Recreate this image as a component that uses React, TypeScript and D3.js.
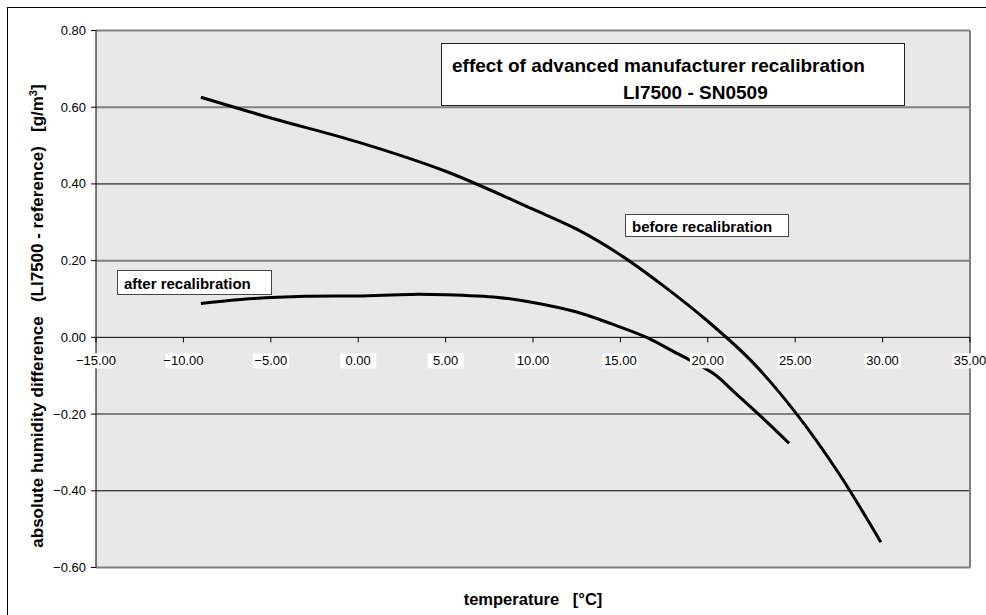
import React from 'react';
import * as d3 from 'd3';

// before recalibration curve (temperature °C -> difference g/m3)
const beforeTemp = [-9, -5, 0, 5, 10, 12.5, 15, 17.5, 20, 22.5, 25, 27.5, 29.9];
const beforeDiff = [0.626, 0.572, 0.509, 0.433, 0.334, 0.282, 0.215, 0.133, 0.042, -0.062, -0.195, -0.355, -0.534];

// after recalibration curve
const afterTemp = [-9, -6, -3, 0, 3, 5, 8, 10, 12.5, 14.5, 16.5, 18, 19, 20.4, 21.5, 22.9, 24.65];
const afterDiff = [0.088, 0.101, 0.107, 0.108, 0.112, 0.111, 0.104, 0.091, 0.066, 0.035, 0, -0.036, -0.06, -0.097, -0.142, -0.2, -0.276];

const xTicks = [-15, -10, -5, 0, 5, 10, 15, 20, 25, 30, 35];
const yTicks = [0.8, 0.6, 0.4, 0.2, 0, -0.2, -0.4, -0.6];

const font = '"Liberation Sans", Arial, sans-serif';

export default function App() {
  const x = d3.scaleLinear().domain([-15, 35]).range([96, 970]);
  const y = d3.scaleLinear().domain([-0.6, 0.8]).range([567.5, 30.5]);

  const line = d3.line<[number, number]>()
    .x(d => x(d[0]))
    .y(d => y(d[1]))
    .curve(d3.curveCatmullRom);

  const before = beforeTemp.map((t, i) => [t, beforeDiff[i]] as [number, number]);
  const after = afterTemp.map((t, i) => [t, afterDiff[i]] as [number, number]);

  // gridline style alternates like the original rendering
  const gridStyle = (v: number) => {
    const r = Math.round(v * 10);
    if (r === 4 || r === -4) return { stroke: '#000', width: 1 };
    return { stroke: '#808080', width: 2 };
  };

  return (
    <svg width={986} height={615} style={{ position: 'absolute', left: 0, top: 0 }} fontFamily={font}>
      <rect x={0} y={0} width={986} height={615} fill="#fff" />
      {/* outer frame */}
      <rect x={7.5} y={7.5} width={990} height={620} fill="none" stroke="#000" strokeWidth={1} />

      {/* plot area */}
      <rect x={x(-15)} y={y(0.8)} width={x(35) - x(-15)} height={y(-0.6) - y(0.8)} fill="#e8e8e8" />

      {yTicks.filter(v => v !== 0).map(v => {
        const s = gridStyle(v);
        return (
          <line key={v} x1={x(-15)} x2={x(35)} y1={y(v)} y2={y(v)} stroke={s.stroke} strokeWidth={s.width} />
        );
      })}
      <line x1={x(35)} x2={x(35)} y1={y(0.8)} y2={y(-0.6)} stroke="#808080" strokeWidth={2} />

      {/* curves */}
      <path d={line(before) || ''} fill="none" stroke="#000" strokeWidth={3} />
      <path d={line(after) || ''} fill="none" stroke="#000" strokeWidth={3} />

      {/* y axis */}
      <line x1={x(-15)} x2={x(-15)} y1={y(0.8)} y2={y(-0.6)} stroke="#000" strokeWidth={1} />
      {yTicks.map(v => (
        <g key={v}>
          <line x1={x(-15) - 5} x2={x(-15)} y1={y(v)} y2={y(v)} stroke="#000" strokeWidth={1} />
          <text x={86} y={y(v)} dy="0.35em" textAnchor="end" fontSize={13} fill="#000">
            {d3.format('.2f')(v)}
          </text>
        </g>
      ))}

      {/* x axis at zero */}
      <line x1={x(-15)} x2={x(35)} y1={y(0)} y2={y(0)} stroke="#000" strokeWidth={1} />
      {xTicks.map(t => (
        <g key={t}>
          <line x1={x(t)} x2={x(t)} y1={y(0)} y2={y(0) + 5} stroke="#000" strokeWidth={1} />
          <rect x={x(t) - 18} y={y(0) + 16} width={36} height={15} fill="#fff" />
          <text x={x(t)} y={y(0) + 23.5} dy="0.35em" textAnchor="middle" fontSize={13} fill="#000">
            {d3.format('.2f')(t)}
          </text>
        </g>
      ))}

      {/* title box */}
      <rect x={441.5} y={43.5} width={463} height={62} fill="#fff" stroke="#222" strokeWidth={1} />
      <text x={452} y={72} fontSize={19} fontWeight="bold" fill="#000">
        effect of advanced manufacturer recalibration
      </text>
      <text x={623} y={99} fontSize={19} fontWeight="bold" fill="#000">
        LI7500 - SN0509
      </text>

      {/* curve labels */}
      <rect x={625.5} y={214.5} width={163} height={22} fill="#fff" stroke="#444" strokeWidth={1} />
      <text x={632} y={231.5} fontSize={15} fontWeight="bold" fill="#000">before recalibration</text>
      <rect x={117.5} y={270.5} width={154} height={24} fill="#fff" stroke="#444" strokeWidth={1} />
      <text x={124} y={288.5} fontSize={15} fontWeight="bold" fill="#000">after recalibration</text>

      {/* axis titles */}
      <text
        transform={`translate(43,316) rotate(-90)`}
        textAnchor="middle"
        fontSize={17}
        fontWeight="bold"
        fill="#000"
        style={{ whiteSpace: 'pre' }}
      >
        {'absolute humidity difference   (LI7500 - reference)   [g/m'}
        <tspan dy={-6} fontSize={11}>3</tspan>
        <tspan dy={6}>]</tspan>
      </text>
      <text x={533} y={605} textAnchor="middle" fontSize={16.5} fontWeight="bold" fill="#000" style={{ whiteSpace: 'pre' }}>
        {'temperature   [°C]'}
      </text>
    </svg>
  );
}
